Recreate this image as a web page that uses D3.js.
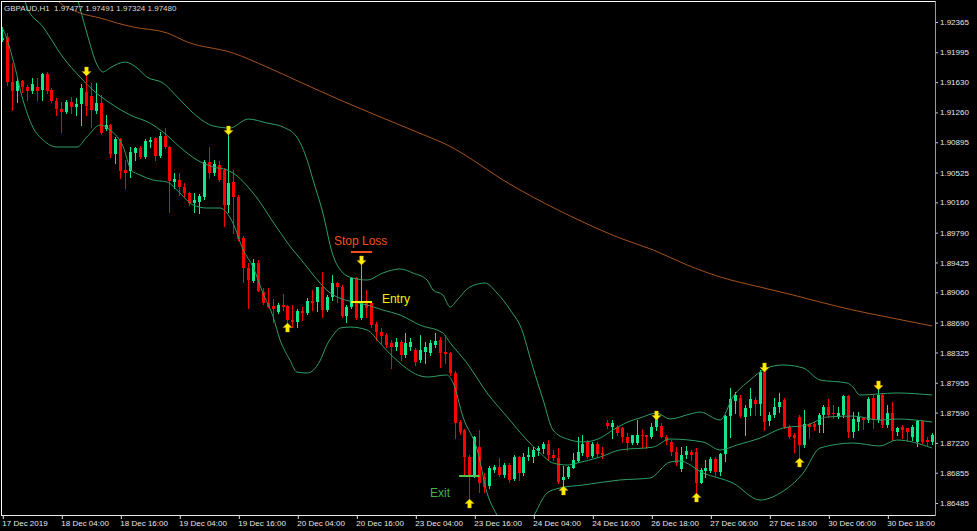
<!DOCTYPE html>
<html><head><meta charset="utf-8">
<script src="https://cdn.jsdelivr.net/npm/d3@7"></script>
<style>html,body{margin:0;padding:0;background:#000;overflow:hidden}</style>
</head><body><svg id="c" width="977" height="531"></svg>
<script>
// ---------- DATA (GBPAUD H1) ----------
const symbolTitle = "GBPAUD,H1  1.97477 1.97491 1.97324 1.97480";
const openP = [
1.92145,1.92182,1.91632,1.91522,1.91644,1.91570,1.91522,1.91570,1.91534,1.91729,
1.91534,1.91399,1.91301,1.91265,1.91387,1.91326,1.91363,1.91509,1.91460,1.91277,
1.91375,1.91057,1.91106,1.90751,1.90935,1.90556,1.90544,1.90764,1.90825,1.90715,
1.90898,1.90947,1.90727,1.90971,1.90837,1.90409,1.90434,1.90348,1.90275,1.90152,
1.90165,1.90226,1.90654,1.90519,1.90617,1.90556,1.90128,1.90409,1.90226,1.89724,
1.89358,1.89199,1.89419,1.89064,1.88930,1.88893,1.88820,1.88905,1.88893,1.88722,
1.88698,1.88832,1.88808,1.88954,1.88942,1.89125,1.88844,1.89003,1.89174,1.89125,
1.88771,1.88881,1.89235,1.88746,1.88942,1.88930,1.88673,1.88575,1.88539,1.88441,
1.88392,1.88453,1.88294,1.88392,1.88355,1.88233,1.88331,1.88319,1.88416,1.88477,
1.88331,1.88319,1.88074,1.87475,1.87377,1.87047,1.86827,1.87169,1.86803,1.86693,
1.86888,1.86925,1.86827,1.86949,1.86778,1.87047,1.86852,1.87047,1.87047,1.87121,
1.87145,1.87206,1.87072,1.87035,1.86766,1.86803,1.86913,1.86998,1.87096,1.87231,
1.87059,1.87206,1.87096,1.87463,1.87414,1.87414,1.87402,1.87292,1.87218,1.87218,
1.87316,1.87316,1.87292,1.87414,1.87426,1.87292,1.87231,1.87108,1.86900,1.87072,
1.87108,1.87108,1.86729,1.86876,1.86876,1.87023,1.86864,1.87084,1.87548,1.87732,
1.87768,1.87536,1.87646,1.87744,1.87695,1.88098,1.87487,1.87561,1.87658,1.87744,
1.87414,1.87316,1.87536,1.87194,1.87451,1.87451,1.87438,1.87561,1.87658,1.87585,
1.87536,1.87561,1.87793,1.87353,1.87475,1.87524,1.87499,1.87768,1.87499,1.87805,
1.87438,1.87585,1.87353,1.87414,1.87402,1.87292,1.87231,1.87487,1.87255,1.87231];
const highP = [
1.92304,1.92231,1.91864,1.91680,1.91656,1.91595,1.91680,1.91680,1.91742,1.91754,
1.91558,1.91436,1.91387,1.91412,1.91448,1.91436,1.91607,1.91705,1.91619,1.91619,
1.91473,1.91228,1.91118,1.90959,1.90947,1.90678,1.90837,1.90837,1.90849,1.90935,
1.90959,1.90959,1.91020,1.91069,1.90849,1.90519,1.90519,1.90397,1.90287,1.90275,
1.90262,1.90678,1.90837,1.90678,1.90666,1.90580,1.91008,1.90556,1.90250,1.89749,
1.89419,1.89468,1.89456,1.89113,1.89113,1.88979,1.88930,1.89040,1.88905,1.88905,
1.88856,1.88881,1.88991,1.89089,1.89125,1.89309,1.89028,1.89272,1.89187,1.89150,
1.88905,1.89248,1.89248,1.89407,1.89089,1.88942,1.88698,1.88624,1.88563,1.88477,
1.88502,1.88477,1.88563,1.88502,1.88380,1.88539,1.88453,1.88477,1.88563,1.88514,
1.88539,1.88331,1.88098,1.87499,1.87389,1.87072,1.87304,1.87377,1.86852,1.86937,
1.86949,1.87035,1.86974,1.86974,1.87072,1.87059,1.87096,1.87169,1.87169,1.87182,
1.87231,1.87255,1.87133,1.87157,1.86937,1.86937,1.87096,1.87292,1.87316,1.87255,
1.87231,1.87231,1.87169,1.87499,1.87499,1.87438,1.87414,1.87341,1.87316,1.87499,
1.87389,1.87316,1.87463,1.87536,1.87463,1.87316,1.87255,1.87169,1.87169,1.87182,
1.87133,1.87157,1.86913,1.87011,1.87047,1.87047,1.87096,1.87561,1.87891,1.87842,
1.87805,1.87683,1.87891,1.87781,1.88111,1.88111,1.87597,1.87768,1.87830,1.87768,
1.87438,1.87341,1.87561,1.87622,1.87463,1.87475,1.87585,1.87683,1.87756,1.87683,
1.87658,1.87805,1.87805,1.87597,1.87597,1.87536,1.87781,1.87805,1.87866,1.87830,
1.87683,1.87720,1.87414,1.87438,1.87402,1.87438,1.87499,1.87499,1.87292,1.87341];
const lowP = [
1.92133,1.91595,1.91289,1.91387,1.91509,1.91412,1.91497,1.91412,1.91412,1.91497,
1.91387,1.91228,1.91020,1.91253,1.91253,1.91228,1.91106,1.91228,1.91081,1.91253,
1.90996,1.91045,1.90715,1.90641,1.90458,1.90336,1.90470,1.90678,1.90702,1.90702,
1.90837,1.90678,1.90715,1.90825,1.90042,1.90336,1.90250,1.90226,1.90128,1.90042,
1.90030,1.90201,1.90458,1.90495,1.90421,1.89871,1.90042,1.89786,1.89700,1.89187,
1.88869,1.89187,1.89076,1.88918,1.88881,1.88698,1.88808,1.88844,1.88685,1.88636,
1.88636,1.88722,1.88795,1.88844,1.88832,1.88759,1.88832,1.88966,1.88942,1.88759,
1.88698,1.88869,1.88734,1.88734,1.88759,1.88636,1.88477,1.88441,1.88392,1.88135,
1.88355,1.88233,1.88270,1.88355,1.88172,1.88209,1.88196,1.88294,1.88392,1.88147,
1.88196,1.88050,1.87279,1.87328,1.86815,1.86534,1.86803,1.86619,1.86619,1.86668,
1.86864,1.86815,1.86803,1.86742,1.86766,1.86766,1.86827,1.87011,1.86986,1.87072,
1.87096,1.87011,1.87011,1.86729,1.86680,1.86790,1.86913,1.86986,1.87072,1.87035,
1.87047,1.87059,1.87035,1.87402,1.87279,1.87316,1.87231,1.87133,1.87206,1.87206,
1.87169,1.87157,1.87279,1.87377,1.87292,1.87206,1.87072,1.86949,1.86876,1.87035,
1.87011,1.86607,1.86729,1.86803,1.86864,1.86815,1.86827,1.86998,1.87292,1.87585,
1.87536,1.87316,1.87561,1.87561,1.87561,1.87377,1.87438,1.87536,1.87597,1.87402,
1.87279,1.87108,1.87011,1.87169,1.87279,1.87377,1.87353,1.87353,1.87536,1.87524,
1.87524,1.87536,1.87292,1.87292,1.87377,1.87389,1.87475,1.87402,1.87475,1.87414,
1.87414,1.87255,1.87316,1.87279,1.87255,1.87255,1.87182,1.87218,1.87194,1.87206];
const closeP = [
1.92169,1.91632,1.91522,1.91644,1.91570,1.91522,1.91607,1.91522,1.91729,1.91522,
1.91399,1.91301,1.91265,1.91387,1.91326,1.91363,1.91558,1.91338,1.91289,1.91375,
1.91008,1.91106,1.90751,1.90935,1.90544,1.90519,1.90776,1.90825,1.90715,1.90910,
1.90922,1.90727,1.90971,1.90837,1.90421,1.90446,1.90348,1.90275,1.90152,1.90189,
1.90238,1.90654,1.90519,1.90629,1.90434,1.90128,1.90397,1.90226,1.89712,1.89358,
1.89211,1.89419,1.89076,1.88930,1.88881,1.88856,1.88905,1.88881,1.88722,1.88698,
1.88832,1.88808,1.88954,1.88930,1.89125,1.88844,1.89003,1.89174,1.89125,1.88771,
1.88881,1.89235,1.88746,1.88942,1.88869,1.88661,1.88575,1.88526,1.88416,1.88392,
1.88453,1.88294,1.88441,1.88453,1.88209,1.88355,1.88392,1.88441,1.88465,1.88319,
1.88306,1.88074,1.87463,1.87353,1.87047,1.86827,1.87292,1.86729,1.86680,1.86913,
1.86925,1.86827,1.86949,1.86766,1.87047,1.86852,1.87047,1.87072,1.87133,1.87157,
1.87206,1.87072,1.87035,1.86742,1.86803,1.86925,1.87011,1.87108,1.87206,1.87047,
1.87206,1.87084,1.87072,1.87426,1.87463,1.87341,1.87292,1.87218,1.87316,1.87316,
1.87304,1.87292,1.87414,1.87524,1.87292,1.87243,1.87108,1.86974,1.87072,1.87121,
1.87072,1.86729,1.86888,1.86913,1.87023,1.86864,1.87084,1.87548,1.87756,1.87805,
1.87548,1.87646,1.87756,1.87695,1.88086,1.87475,1.87561,1.87658,1.87720,1.87414,
1.87292,1.87279,1.87194,1.87451,1.87414,1.87414,1.87561,1.87658,1.87561,1.87573,
1.87585,1.87793,1.87353,1.87512,1.87536,1.87499,1.87756,1.87499,1.87805,1.87438,
1.87585,1.87365,1.87402,1.87377,1.87353,1.87414,1.87487,1.87231,1.87231,1.87316];

// Bollinger bands and moving average (bar position, price)
const upperIdx = [14.2,15.4,17.2,19.3,20.5,21.9,25.0,27.4,29.4,32.7,35.6,38.8,42.9,46.3,50.0,53.8,57.1,59.9,62.0,63.2,65.2,67.1,69.3,71.3,74.2,77.4,80.9,83.5,86.4,87.6,89.6,91.1,92.5,95.1,98.2,100.6,103.3,105.9,106.9,107.9,110.0,112.0,114.9,118.1,121.6,124.2,127.7,129.7,133.1,135.8,139.9,141.9,146.0,148.6,152.1,155.5,158.8,162.9,166.3,171.8,173.0,174.4,181.9,189.1];
const upperVal = [1.92879,1.92622,1.92231,1.91839,1.91754,1.91803,1.91876,1.91803,1.91693,1.91619,1.91448,1.91253,1.91094,1.91069,1.91179,1.91130,1.91081,1.90959,1.90678,1.90434,1.90030,1.89541,1.89297,1.89235,1.89211,1.89297,1.89346,1.89297,1.89211,1.89089,1.89028,1.88881,1.88966,1.89125,1.89174,1.89052,1.88844,1.88563,1.88355,1.88147,1.87744,1.87377,1.87267,1.87231,1.87279,1.87377,1.87487,1.87524,1.87585,1.87512,1.87573,1.87597,1.87499,1.87781,1.87989,1.88135,1.88172,1.88135,1.87989,1.87952,1.87903,1.87805,1.87830,1.87805];
const midIdx = [2.4,4.6,5.0,8.3,12.3,15.8,18.4,21.9,26.0,30.0,32.7,36.1,39.6,42.9,45.7,46.9,51.0,55.9,59.1,60.5,62.6,64.6,67.3,74.2,77.4,80.9,84.9,89.6,91.1,94.5,98.6,102.7,106.7,109.4,112.0,114.9,116.9,121.6,125.6,132.4,135.8,142.5,146.0,149.4,154.1,158.8,163.7,167.7,173.0,178.5,181.9,189.1];
const midVal = [1.92781,1.92622,1.92548,1.92304,1.91937,1.91693,1.91534,1.91375,1.91228,1.91130,1.91020,1.90837,1.90678,1.90592,1.90556,1.90519,1.90275,1.89847,1.89578,1.89480,1.89321,1.89174,1.89028,1.88905,1.88844,1.88783,1.88661,1.88563,1.88441,1.88196,1.87830,1.87536,1.87255,1.87096,1.86974,1.86949,1.86974,1.87047,1.87133,1.87169,1.87267,1.87231,1.87133,1.87194,1.87279,1.87402,1.87438,1.87536,1.87548,1.87499,1.87512,1.87475];
const lowIdx = [-0.5,0.2,2.2,4.2,6.2,8.3,11.1,15.2,17.2,19.9,21.9,24.6,26.2,28.0,30.6,33.5,36.1,38.8,41.6,44.3,46.9,49.0,51.0,53.0,55.1,56.5,58.5,59.9,62.0,64.6,66.0,67.3,68.7,70.7,74.2,76.8,79.5,86.4,90.4,91.7,93.7,96.6,98.6,100.6,102.7,105.3,107.9,110.8,113.4,118.1,125.6,131.7,135.8,137.8,142.5,148.6,154.1,158.2,162.9,166.3,173.0,178.5,181.9,189.1];
const lowVal = [1.92328,1.92267,1.91900,1.91412,1.91081,1.90922,1.90837,1.90837,1.90959,1.91106,1.91045,1.90837,1.90556,1.90495,1.90434,1.90409,1.90275,1.90128,1.90091,1.90091,1.89908,1.89578,1.89370,1.89052,1.88759,1.88477,1.88233,1.88086,1.88074,1.88221,1.88416,1.88539,1.88624,1.88636,1.88600,1.88441,1.88270,1.88025,1.88050,1.87952,1.87536,1.87133,1.86607,1.86338,1.86130,1.86130,1.86314,1.86607,1.86668,1.86705,1.86766,1.86790,1.86986,1.86998,1.86852,1.86729,1.86521,1.86607,1.86852,1.87157,1.87218,1.87182,1.87255,1.87157];
const maIdx = [9.7,11.3,15.8,19.9,23.3,26.6,33.5,37.6,46.9,53.8,60.5,68.7,77.4,84.3,91.7,95.7,101.8,107.9,118.1,125.6,132.4,139.3,146.0,154.1,160.8,166.3,173.0,179.9,189.1];
const maVal = [1.92732,1.92622,1.92475,1.92414,1.92353,1.92304,1.92231,1.92121,1.91986,1.91815,1.91632,1.91412,1.91191,1.91020,1.90825,1.90678,1.90434,1.90226,1.89920,1.89724,1.89578,1.89394,1.89248,1.89125,1.89028,1.88942,1.88844,1.88759,1.88649];

// signal arrows (bar index, tip price, direction)
const arrowIdx = [17,46,73,133,155,178,58,95,114,141,162];
const arrowPrice = [1.91705,1.90984,1.89394,1.87499,1.88086,1.87866,1.88685,1.86534,1.86693,1.86607,1.87035];
const arrowDir = ["down","down","down","down","down","down","up","up","up","up","up"];

// trade annotations
const levelName = ["Stop Loss","Entry","Exit"];
const levelPrice = [1.89553,1.88942,1.86815];
const levelFrom = [70.9,70.9,92.9];
const levelTo = [75.2,75.2,97.1];
const labelIdx = [67.46,77.2,87.0];
const labelPrice = [1.89639,1.88930,1.86558];

// axes
const xTickIdx = [0,12,24,36,48,60,72,84,96,108,120,132,144,156,168,180];
const xTickLabels = ["17 Dec 2019","18 Dec 04:00","18 Dec 16:00","19 Dec 04:00","19 Dec 16:00","20 Dec 04:00","20 Dec 16:00","23 Dec 04:00","23 Dec 16:00","24 Dec 04:00","24 Dec 16:00","26 Dec 18:00","27 Dec 06:00","27 Dec 18:00","30 Dec 06:00","30 Dec 18:00"];
const yTickValues = [1.92365,1.91995,1.91630,1.91260,1.90895,1.90525,1.90160,1.89790,1.89425,1.89060,1.88690,1.88325,1.87955,1.87590,1.87220,1.86855,1.86485];

// ---------- DRAWING ----------
const W = 977, H = 531;
const UP = "#16e68c", DOWN = "#ff0000", BAND = "#2f9e66", MA = "#a5521e";
const FONT = "'Liberation Sans', Arial, sans-serif";
const svg = d3.select("#c");
svg.append("rect").attr("width", W).attr("height", H).attr("fill", "#000");

const x = d3.scaleLinear().domain([0, 189]).range([2.3, 931.6]);
const y = d3.scaleLinear().domain([1.86485, 1.92365]).range([503, 22]);

svg.append("defs").append("clipPath").attr("id", "plot")
  .append("rect").attr("x", 2).attr("y", 2).attr("width", 933).attr("height", 513);
const g = svg.append("g").attr("clip-path", "url(#plot)");

const bars = d3.range(openP.length);
const cx = i => Math.round(x(i));

// wicks
g.selectAll("line.wick").data(bars).join("line").attr("class", "wick")
  .attr("x1", i => cx(i) + 0.5).attr("x2", i => cx(i) + 0.5)
  .attr("y1", i => Math.round(y(highP[i]))).attr("y2", i => Math.round(y(lowP[i])) + 1)
  .attr("stroke", i => closeP[i] >= openP[i] ? UP : DOWN).attr("stroke-width", 1);
// bodies
g.selectAll("rect.body").data(bars).join("rect").attr("class", "body")
  .attr("x", i => cx(i) - 1).attr("width", 3)
  .attr("y", i => Math.round(y(Math.max(openP[i], closeP[i]))))
  .attr("height", i => Math.max(1, Math.round(y(Math.min(openP[i], closeP[i]))) - Math.round(y(Math.max(openP[i], closeP[i])))))
  .attr("fill", i => closeP[i] >= openP[i] ? UP : DOWN)
  .attr("shape-rendering", "crispEdges");

// lines
const line = d3.line().x(d => x(d[0])).y(d => y(d[1])).curve(d3.curveMonotoneX);
g.append("path").datum(d3.zip(maIdx, maVal)).attr("d", line)
  .attr("fill", "none").attr("stroke", MA).attr("stroke-width", 1);
[[upperIdx, upperVal], [midIdx, midVal], [lowIdx, lowVal]].forEach(([ix, v]) => {
  g.append("path").datum(d3.zip(ix, v)).attr("d", line)
    .attr("fill", "none").attr("stroke", BAND).attr("stroke-width", 1);
});

// arrows
const arrowPath = "M0,0 L4.5,4.5 L1.8,4.5 L1.8,9 L-1.8,9 L-1.8,4.5 L-4.5,4.5 Z";
g.selectAll("path.arrow").data(arrowIdx.map((d, k) => k)).join("path").attr("class", "arrow")
  .attr("d", arrowPath)
  .attr("transform", k => `translate(${cx(arrowIdx[k]) + 0.5},${y(arrowPrice[k])}) scale(1,${arrowDir[k] === "up" ? 1 : -1})`)
  .attr("fill", "#ffee00").attr("stroke", "#d9a400").attr("stroke-width", 0.4);

// annotations
const annColors = ["#f4511e", "#f2f200", "#45b04a"];
const annLine = ["#f4511e", "#f2f200", "#52c24a"];
svg.selectAll("line.level").data(levelName.map((d, k) => k)).join("line").attr("class", "level")
  .attr("x1", k => x(levelFrom[k])).attr("x2", k => x(levelTo[k]))
  .attr("y1", k => y(levelPrice[k])).attr("y2", k => y(levelPrice[k]))
  .attr("stroke", k => annLine[k]).attr("stroke-width", 2);
svg.selectAll("text.ann").data(levelName.map((d, k) => k)).join("text").attr("class", "ann")
  .attr("x", k => x(labelIdx[k])).attr("y", k => y(labelPrice[k]))
  .attr("fill", k => annColors[k]).attr("font-family", FONT).attr("font-size", 12)
  .text(k => levelName[k]);

// y axis
const yAxis = svg.append("g").attr("transform", "translate(935,0)")
  .call(d3.axisRight(y).tickValues(yTickValues).tickSize(3).tickPadding(2).tickFormat(d => d.toFixed(5)));
yAxis.select(".domain").remove();
yAxis.selectAll("line").attr("stroke", "#c8c8c8");
yAxis.selectAll("text").attr("fill", "#e6e6e6").attr("font-family", FONT).attr("font-size", 8);

// x axis
const xAxis = svg.append("g").attr("transform", "translate(0,515)")
  .call(d3.axisBottom(x).tickValues(xTickIdx).tickSize(4).tickPadding(1).tickFormat((d, k) => xTickLabels[k]));
xAxis.select(".domain").remove();
xAxis.selectAll("line").attr("stroke", "#e0e0e0").attr("transform", "translate(0.5,0)");
xAxis.selectAll("text").attr("fill", "#e6e6e6").attr("font-family", FONT).attr("font-size", 8)
  .attr("text-anchor", "start").attr("x", -0.5);

// frame
const frame = svg.append("g").attr("shape-rendering", "crispEdges");
frame.append("line").attr("x1", 1.5).attr("x2", 1.5).attr("y1", 1).attr("y2", 516).attr("stroke", "#fff");
frame.append("line").attr("x1", 1).attr("x2", 936).attr("y1", 1.5).attr("y2", 1.5).attr("stroke", "#fff");
frame.append("line").attr("x1", 1).attr("x2", 936).attr("y1", 515.5).attr("y2", 515.5).attr("stroke", "#e8e8e8");
frame.append("line").attr("x1", 935.5).attr("x2", 935.5).attr("y1", 1).attr("y2", 516).attr("stroke", "#9a9a9a");

// title
svg.append("text").attr("x", 4).attr("y", 10.5).attr("fill", "#dcdcdc")
  .attr("font-family", FONT).attr("font-size", 8).style("white-space", "pre")
  .text(symbolTitle);
</script>
</body></html>
